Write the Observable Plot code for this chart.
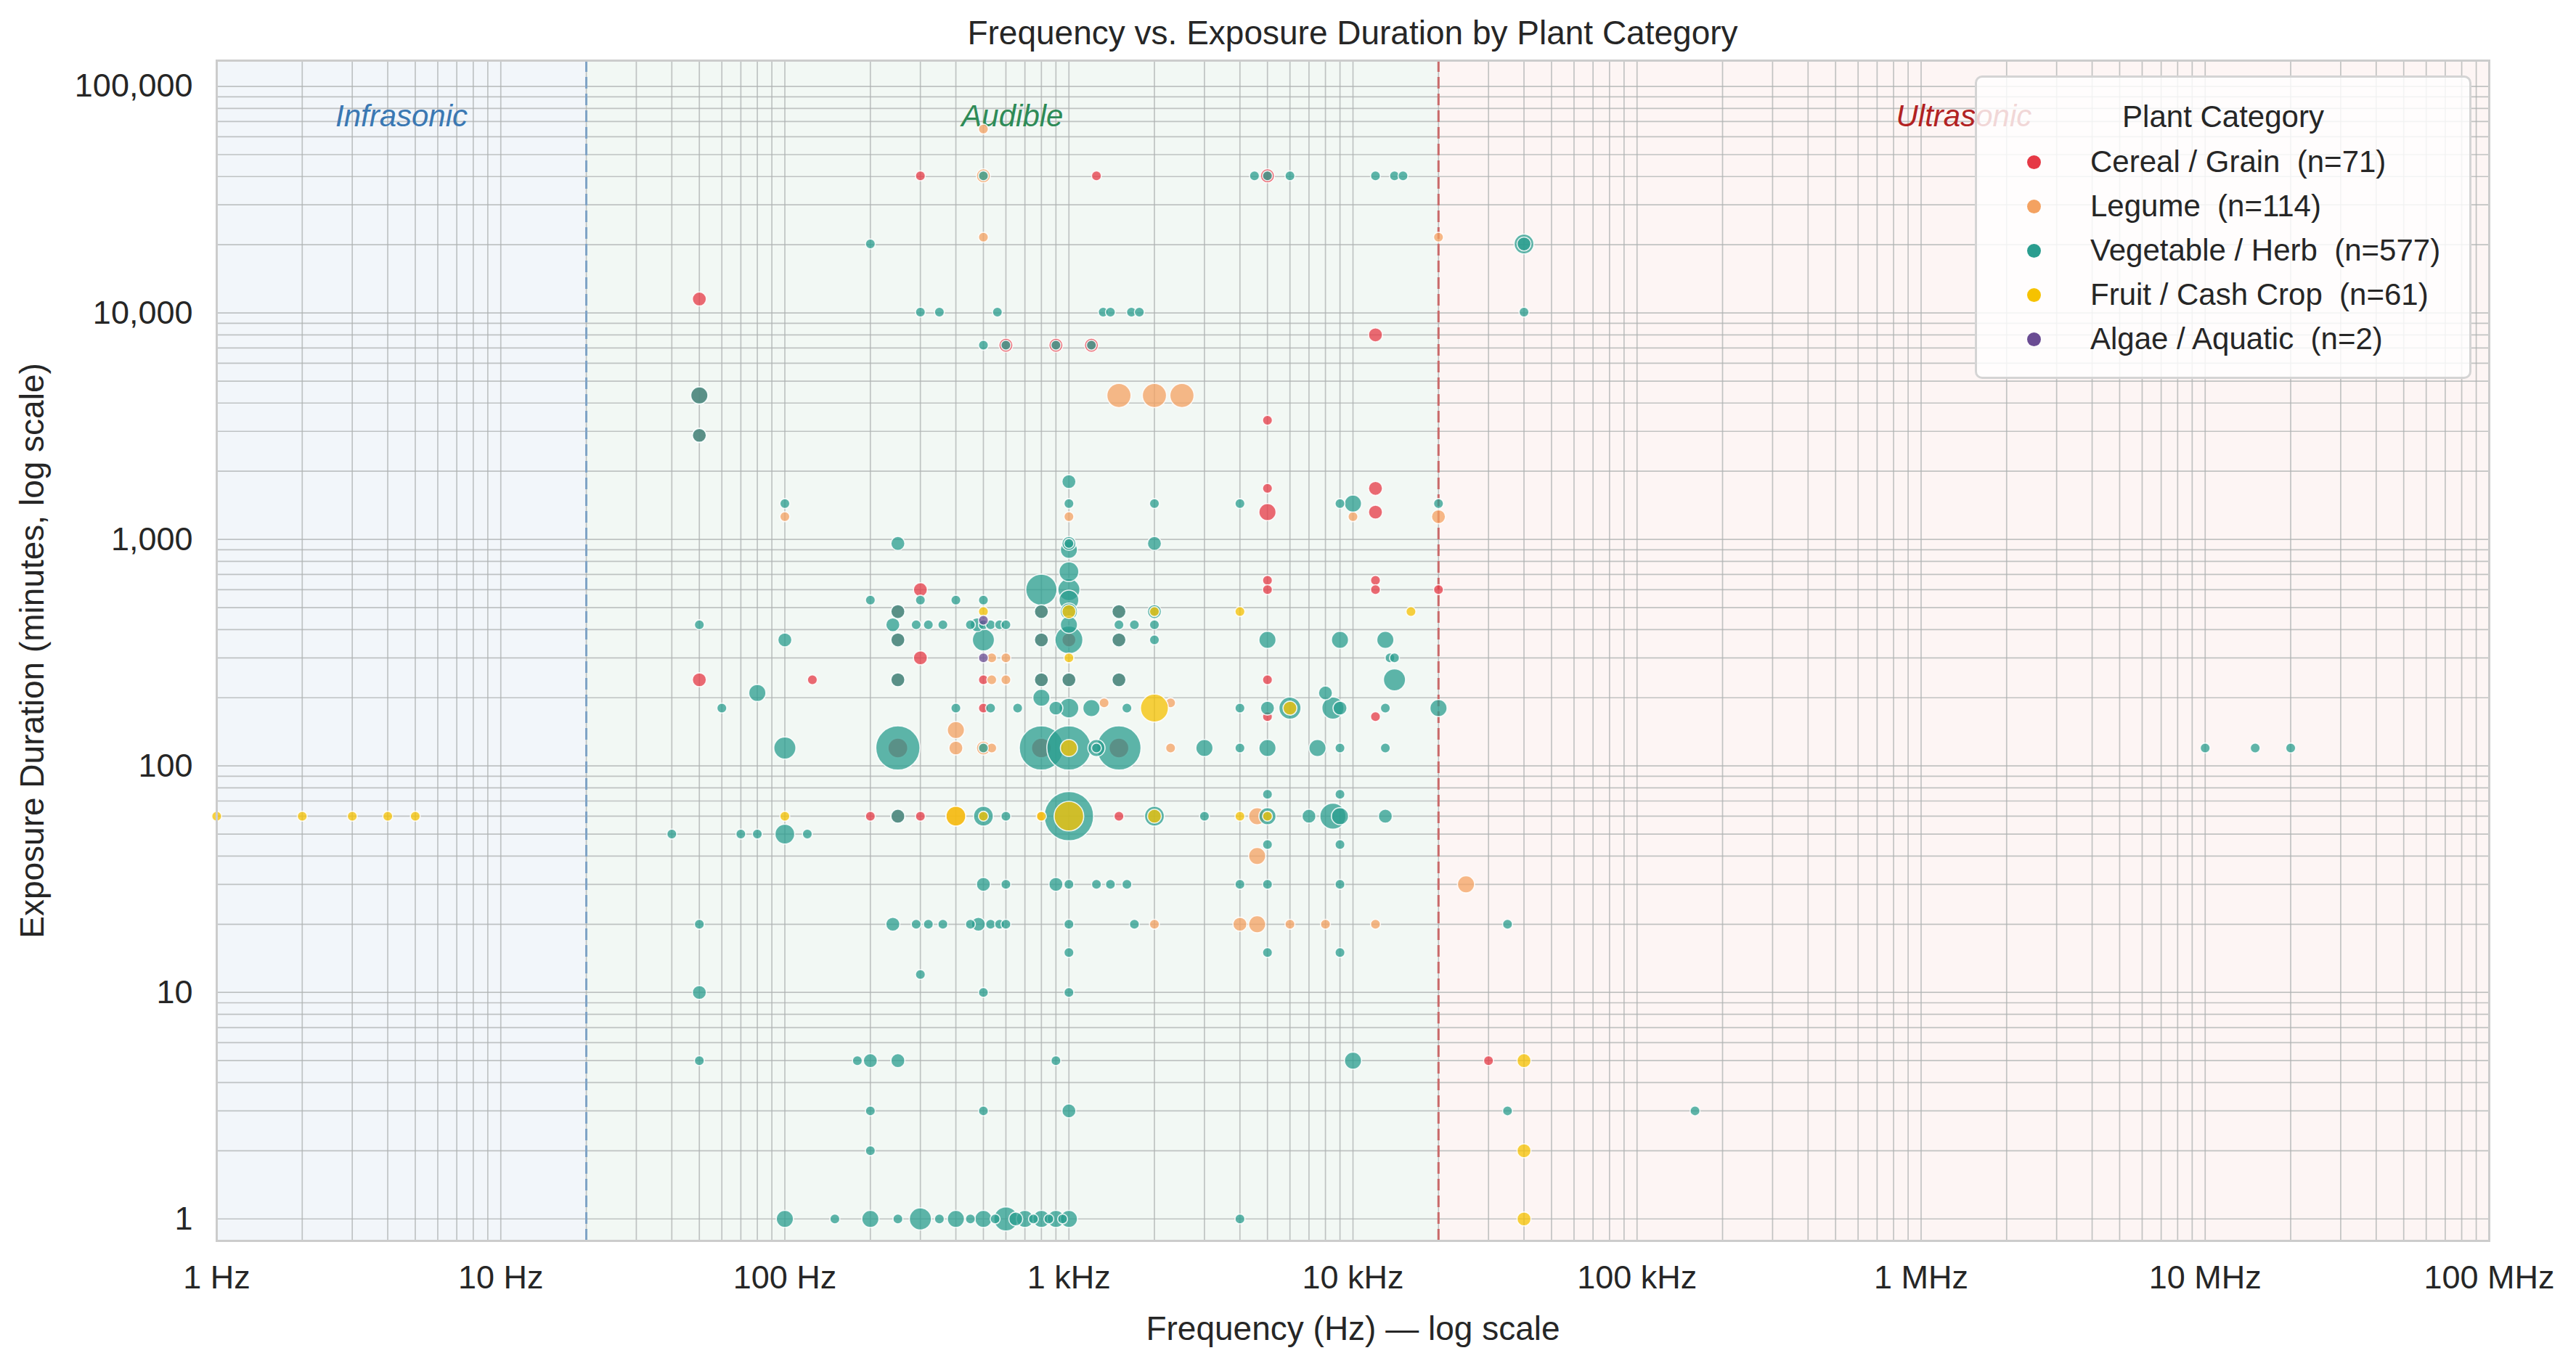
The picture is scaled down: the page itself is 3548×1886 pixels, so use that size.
<!DOCTYPE html>
<html>
<head>
<meta charset="utf-8">
<script src="https://cdn.jsdelivr.net/npm/d3@7"></script>
<script src="https://cdn.jsdelivr.net/npm/@observablehq/plot@0.6"></script>
<style>
  body { margin: 0; background: #ffffff; font-family: "Liberation Sans", Arial, sans-serif; }
  #wrap { position: relative; width: 3548px; height: 1886px; }
  #chart { position: absolute; left: 0; top: 0; }
  #title { position: absolute; left: 298px; width: 3130px; top: 20px; text-align: center;
           font-size: 46px; line-height: 50px; color: #262626; }
  #legend { position: absolute; left: 2720px; top: 104px; width: 684px; height: 418px;
            background: rgba(255,255,255,0.82); border: 3px solid #d4d4d4; border-radius: 10px;
            box-sizing: border-box; color: #262626; }
  #legend .lt { position: absolute; left: 0; width: 100%; top: 30px; text-align: center;
                font-size: 42px; line-height: 48px; }
  #legend .row { position: absolute; left: 0; height: 48px; font-size: 42px; line-height: 48px; white-space: pre; }
  #legend .sw { position: absolute; left: 69px; top: 15px; width: 19px; height: 19px; border-radius: 50%; }
  #legend .lab { position: absolute; left: 156px; top: 0; }
</style>
</head>
<body>
<div id="wrap">
  <div id="chart"></div>
  <div id="title">Frequency vs. Exposure Duration by Plant Category</div>
  <div id="legend"></div>
</div>
<script>
// ---------------- data ----------------
const categories = ["Cereal / Grain", "Legume", "Vegetable / Herb", "Fruit / Cash Crop", "Algae / Aquatic"];
const categoryColors = ["#e63946", "#f4a261", "#2a9d8f", "#f6c200", "#6a4c93"];
const categoryCounts = [71, 114, 577, 61, 2];
const legendTitle = "Plant Category";

const xTickValues = [1, 10, 100, 1e3, 1e4, 1e5, 1e6, 1e7, 1e8];
const xTickLabels = ["1 Hz", "10 Hz", "100 Hz", "1 kHz", "10 kHz", "100 kHz", "1 MHz", "10 MHz", "100 MHz"];
const yTickValues = [1, 10, 100, 1000, 10000, 100000];

const bandNames = ["Infrasonic", "Audible", "Ultrasonic"];
const bandLo = [1, 20, 20000];
const bandHi = [20, 20000, 1e8];

// [frequency Hz, exposure minutes, records at that point]
const cereal = [
  [50, 11520, 2], [50, 4320, 3], [50, 2880, 2], [50, 240, 2], [125, 240, 1],
  [200, 60, 1], [300, 60, 1], [300, 600, 2], [300, 300, 2], [300, 40320, 1],
  [1250, 40320, 1], [5000, 40320, 2], [600, 7200, 2], [900, 7200, 2], [1200, 7200, 2],
  [12000, 8000, 2], [5000, 3360, 1], [5000, 1680, 1], [5000, 1320, 3], [12000, 1680, 2],
  [12000, 1320, 2], [5000, 660, 1], [5000, 600, 1], [12000, 660, 1], [12000, 600, 1],
  [20000, 600, 1], [500, 240, 1], [500, 180, 1], [5000, 240, 1], [5000, 165, 1],
  [12000, 165, 1], [1500, 60, 1], [30000, 5, 1],
  [250, 60, 2], [250, 480, 2], [250, 360, 2], [250, 240, 2], [800, 480, 2], [800, 360, 2],
  [800, 240, 2], [1500, 480, 2], [1500, 360, 2], [1500, 240, 2], [1000, 240, 2],
  [250, 120, 4], [800, 120, 4], [1500, 120, 4], [1000, 360, 2]
];
const legume = [
  [500, 64800, 1], [500, 40320, 2], [500, 21600, 1], [20000, 21600, 1],
  [1500, 4320, 6], [2000, 4320, 6], [2500, 4320, 6],
  [100, 1260, 1], [1000, 1260, 1], [10000, 1260, 1], [20000, 1260, 2],
  [400, 144, 3], [400, 120, 2], [500, 120, 2], [535, 120, 1],
  [535, 300, 1], [600, 300, 1], [535, 240, 1], [600, 240, 1],
  [1330, 190, 1], [2280, 190, 1], [2280, 120, 1],
  [400, 60, 4], [800, 60, 1], [4600, 60, 3], [4600, 40, 3], [25000, 30, 3],
  [2000, 20, 1], [4000, 20, 2], [4600, 20, 3], [6000, 20, 1], [8000, 20, 1], [12000, 20, 1]
];
const vegetable = [
  [500, 40320, 1], [4500, 40320, 1], [5000, 40320, 1], [6000, 40320, 1], [12000, 40320, 1],
  [14000, 40320, 1], [15000, 40320, 1],
  [200, 20160, 1], [40000, 20160, 4], [40000, 20160, 2],
  [300, 10080, 1], [350, 10080, 1], [560, 10080, 1], [1320, 10080, 1], [1400, 10080, 1],
  [1660, 10080, 1], [1770, 10080, 1], [40000, 10080, 1],
  [500, 7200, 1], [600, 7200, 1], [900, 7200, 1], [1200, 7200, 1],
  [50, 4320, 3], [50, 2880, 2], [1000, 1800, 2],
  [100, 1440, 1], [1000, 1440, 1], [2000, 1440, 1], [4000, 1440, 1], [9000, 1440, 1],
  [10000, 1440, 3], [20000, 1440, 1],
  [250, 960, 2], [1000, 960, 2], [1000, 960, 1], [2000, 960, 2],
  [1000, 900, 3], [1000, 720, 4], [800, 600, 10], [1000, 600, 5],
  [200, 540, 1], [300, 540, 1], [400, 540, 1], [500, 540, 1], [1000, 540, 4],
  [250, 480, 2], [800, 480, 2], [1000, 480, 3], [1500, 480, 2], [2000, 480, 2],
  [50, 420, 1], [240, 420, 2], [290, 420, 1], [320, 420, 1], [360, 420, 1], [450, 420, 1],
  [475, 420, 2], [500, 420, 1], [530, 420, 1], [570, 420, 1], [600, 420, 1], [1000, 420, 3],
  [1500, 420, 1], [1700, 420, 1], [2000, 420, 1],
  [100, 360, 2], [250, 360, 2], [500, 360, 5], [800, 360, 2], [1000, 360, 8], [1500, 360, 2],
  [2000, 360, 1], [5000, 360, 3], [9000, 360, 3], [13000, 360, 3],
  [13500, 300, 1], [14000, 300, 1],
  [250, 240, 2], [800, 240, 2], [1000, 240, 2], [1500, 240, 2], [14000, 240, 5],
  [80, 210, 3], [800, 200, 3], [8000, 210, 2],
  [60, 180, 1], [400, 180, 1], [530, 180, 1], [660, 180, 1], [900, 180, 2], [1000, 180, 4],
  [1200, 180, 3], [1600, 180, 1], [4000, 180, 1], [5000, 180, 2], [6000, 180, 5], [8500, 180, 5],
  [9000, 180, 2], [13000, 180, 1], [20000, 180, 3],
  [100, 120, 5], [250, 120, 20], [500, 120, 1], [800, 120, 20], [1000, 120, 20], [1250, 120, 3],
  [1250, 120, 1], [1500, 120, 20], [3000, 120, 3], [4000, 120, 1], [5000, 120, 3], [7500, 120, 3],
  [9000, 120, 1], [13000, 120, 1], [1e7, 120, 1], [1.5e7, 120, 1], [2e7, 120, 1],
  [5000, 75, 1], [9000, 75, 1],
  [250, 60, 2], [500, 60, 4], [600, 60, 1], [1000, 60, 25], [2000, 60, 4], [3000, 60, 1],
  [5000, 60, 3], [7000, 60, 2], [8500, 60, 7], [9000, 60, 3], [13000, 60, 2],
  [40, 50, 1], [70, 50, 1], [80, 50, 1], [100, 50, 4], [120, 50, 1],
  [5000, 45, 1], [9000, 45, 1],
  [500, 30, 2], [600, 30, 1], [900, 30, 2], [1000, 30, 1], [1250, 30, 1], [1400, 30, 1],
  [1600, 30, 1], [4000, 30, 1], [5000, 30, 1], [9000, 30, 1],
  [50, 20, 1], [240, 20, 2], [290, 20, 1], [320, 20, 1], [360, 20, 1], [450, 20, 1], [480, 20, 2],
  [530, 20, 1], [570, 20, 1], [600, 20, 1], [1000, 20, 1], [1700, 20, 1], [35000, 20, 1],
  [1000, 15, 1], [5000, 15, 1], [9000, 15, 1], [300, 12, 1],
  [50, 10, 2], [500, 10, 1], [1000, 10, 1],
  [50, 5, 1], [180, 5, 1], [200, 5, 2], [250, 5, 2], [900, 5, 1], [10000, 5, 3],
  [200, 3, 1], [500, 3, 1], [1000, 3, 2], [35000, 3, 1], [160000, 3, 1], [200, 2, 1],
  [100, 1, 3], [150, 1, 1], [200, 1, 3], [250, 1, 1], [300, 1, 5], [350, 1, 1], [400, 1, 3],
  [450, 1, 1], [500, 1, 3], [550, 1, 1], [600, 1, 6], [650, 1, 2], [700, 1, 3], [750, 1, 1],
  [800, 1, 3], [850, 1, 1], [900, 1, 3], [950, 1, 1], [1000, 1, 3], [4000, 1, 1]
];
const fruit = [
  [1, 60, 1], [2, 60, 1], [3, 60, 1], [4, 60, 1], [5, 60, 1],
  [100, 60, 1], [400, 60, 4], [500, 60, 1], [800, 60, 1], [1000, 60, 9], [2000, 60, 2],
  [4000, 60, 1], [5000, 60, 1],
  [500, 480, 1], [1000, 480, 2], [2000, 480, 1], [4000, 480, 1], [16000, 480, 1],
  [1000, 300, 1], [1000, 120, 3], [2000, 180, 8], [6000, 180, 2],
  [40000, 5, 2], [40000, 2, 2], [40000, 1, 2]
];
const algae = [[500, 440, 1], [500, 300, 1]];

// ---------------- build table ----------------
const seriesList = [cereal, legume, vegetable, fruit, algae];
const points = [];
seriesList.forEach((s, ci) => {
  s.slice().sort((a, b) => b[2] - a[2]).forEach(([f, d, n]) => {
    points.push({freq: f, dur: d, n, cat: categories[ci]});
  });
});
const bands = bandNames.map((name, i) => ({name, lo: bandLo[i], hi: bandHi[i]}));
const bandFill = {Infrasonic: "#f2f6fa", Audible: "#f2f8f4", Ultrasonic: "#fdf5f4"};
const bandText = {Infrasonic: "#3a78b3", Audible: "#2e8b57", Ultrasonic: "#b22222"};
const bandLine = {Audible: "#7fa3c6", Ultrasonic: "#c96a6a"};

// minor grid positions (1..9 within each decade)
const xGrid = [], yGrid = [];
for (let e = 0; e < 8; e++) for (let k = 1; k < 10; k++) xGrid.push(k * 10 ** e);
xGrid.push(1e8);
for (let e = 0; e < 6; e++) for (let k = 1; k < 10; k++) { const v = k * 10 ** e; if (v <= 130000) yGrid.push(v); }

const yDomain = [0.8, 130000];
const xLabelMap = new Map(xTickValues.map((v, i) => [v, xTickLabels[i]]));

const chart = Plot.plot({
  width: 3548,
  height: 1886,
  marginLeft: 298,
  marginRight: 120,
  marginTop: 83,
  marginBottom: 177,
  style: {fontSize: "45px", fontFamily: "'Liberation Sans', Arial, sans-serif", color: "#262626", background: "transparent"},
  x: {type: "log", domain: [1, 1e8], ticks: xTickValues, tickFormat: d => xLabelMap.get(d), tickSize: 0, tickPadding: 34, label: null},
  y: {type: "log", domain: yDomain, ticks: yTickValues, tickFormat: d3.format(","), tickSize: 0, tickPadding: 33, label: null},
  r: {type: "sqrt", domain: [0, 25], range: [0, 34]},
  color: {domain: categories, range: categoryColors},
  marks: [
    Plot.rect(bands, {x1: "lo", x2: "hi", y1: yDomain[0], y2: yDomain[1], fill: d => bandFill[d.name]}),
    Plot.ruleX(xGrid, {stroke: "#aeb2b2", strokeWidth: 1.7, strokeOpacity: 0.75}),
    Plot.ruleY(yGrid, {stroke: "#aeb2b2", strokeWidth: 1.7, strokeOpacity: 0.75}),
    Plot.ruleX(bands.slice(1), {x: "lo", stroke: d => bandLine[d.name], strokeWidth: 3, strokeDasharray: "16,7"}),
    Plot.text(bands, {x: d => Math.sqrt(d.lo * d.hi), frameAnchor: "top", lineAnchor: "middle", dy: 77, text: "name",
      fill: d => bandText[d.name], fontStyle: "italic", fontSize: 42}),
    Plot.dot(points, {x: "freq", y: "dur", r: "n", fill: "cat", fillOpacity: 0.75, sort: null,
      stroke: "white", strokeWidth: 1.6, strokeOpacity: 0.85}),
    Plot.frame({stroke: "#cccccc", strokeWidth: 3}),
    Plot.text(["Frequency (Hz) — log scale"], {frameAnchor: "bottom", lineAnchor: "middle", textAnchor: "middle", dy: 122, fontSize: 46, fill: "#262626"}),
    Plot.text(["Exposure Duration (minutes, log scale)"], {frameAnchor: "left", lineAnchor: "middle", textAnchor: "middle", dx: -253, rotate: -90, fontSize: 46, fill: "#262626"})
  ]
});
document.getElementById("chart").appendChild(chart);

// ---------------- legend ----------------
const legend = document.getElementById("legend");
const lt = document.createElement("div");
lt.className = "lt";
lt.textContent = legendTitle;
legend.appendChild(lt);
categories.forEach((c, i) => {
  const row = document.createElement("div");
  row.className = "row";
  row.style.top = (92 + i * 61) + "px";
  row.style.width = "100%";
  const sw = document.createElement("div");
  sw.className = "sw";
  sw.style.background = categoryColors[i];
  const lab = document.createElement("div");
  lab.className = "lab";
  lab.textContent = c + "  (n=" + categoryCounts[i] + ")";
  row.appendChild(sw);
  row.appendChild(lab);
  legend.appendChild(row);
});
</script>
</body>
</html>
